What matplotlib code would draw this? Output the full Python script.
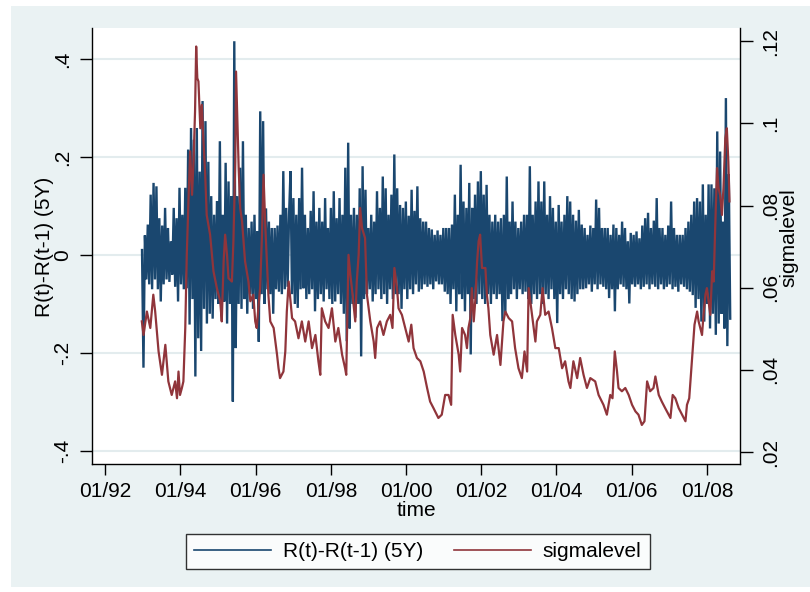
import numpy as np
import matplotlib
matplotlib.use("Agg")
import matplotlib.pyplot as plt
from matplotlib.patches import Rectangle
from matplotlib.lines import Line2D

plt.rcParams['font.family'] = ['Liberation Sans', 'DejaVu Sans']

# ---------------------------------------------------------------------------
# Data
# ---------------------------------------------------------------------------
# Daily change of the 5Y rate, sampled at regular intervals (decimal years)
dr_start, dr_end = 1992.98, 2008.62
dr_5y = [
    0.01, -0.23, 0.04, -0.05, 0.062, -0.06, 0.123, -0.07, 0.147, -0.05,
    0.14, -0.07, 0.075, -0.095, 0.06, -0.06, 0.096, -0.05, 0.055, -0.055,
    0.028, -0.04, 0.096, -0.065, 0.075, -0.095, 0.137, -0.06, 0.082, -0.07,
    0.137, -0.068, 0.215, -0.142, 0.259, -0.09, 0.235, -0.248, 0.259, -0.17,
    0.17, -0.196, 0.314, -0.11, 0.273, -0.14, 0.19, -0.12, 0.12, -0.13,
    0.082, -0.09, 0.11, -0.1, 0.232, -0.12, 0.082, -0.095, 0.188, -0.14,
    0.15, -0.1, 0.12, -0.299, 0.436, -0.19, 0.12, -0.1, 0.178, -0.11,
    0.232, -0.09, 0.082, -0.12, 0.055, -0.08, 0.068, -0.11, 0.082, -0.09,
    0.048, -0.177, 0.293, -0.08, 0.273, -0.1, 0.095, -0.07, 0.068, -0.08,
    0.055, -0.12, 0.055, -0.07, 0.06, -0.075, 0.082, -0.08, 0.171, -0.07,
    0.096, -0.065, 0.082,
    0.171, -0.08, 0.116, -0.1, 0.082, -0.108, 0.116, -0.07, 0.178, -0.068,
    0.082, -0.09, 0.055, -0.08, 0.09, -0.07, 0.13, -0.115, 0.068, -0.09,
    0.096, -0.08, 0.068, -0.095, 0.116, -0.07, 0.055, -0.09, 0.096, -0.1,
    0.13, -0.095, 0.075, -0.08, 0.116, -0.1, 0.082, -0.12, 0.178, -0.176,
    0.229, -0.15, 0.082, -0.1, 0.096, -0.128, 0.082, -0.1, 0.136, -0.207,
    0.181, -0.09, 0.133, -0.08, 0.055, -0.07, 0.082, -0.095, 0.068, -0.08,
    0.13, -0.07, 0.096, -0.09, 0.16, -0.08, 0.136, -0.1, 0.082, -0.07,
    0.123, -0.09, 0.205, -0.08, 0.136, -0.08, 0.102, -0.11, 0.096, -0.07,
    0.109, -0.09, 0.08, -0.07, 0.133, -0.08, 0.09, -0.06, 0.14, -0.075,
    0.075, -0.07, 0.068, -0.06, 0.068, -0.065, 0.055, -0.06, 0.052, -0.07,
    0.041, -0.054, 0.05, -0.06,
    0.041, -0.06, 0.055, -0.075, 0.055, -0.08, 0.055, -0.1, 0.062, -0.07,
    0.123, -0.115, 0.082, -0.08, 0.184, -0.09, 0.109, -0.115, 0.096, -0.08,
    0.147, -0.203, 0.096, -0.09, 0.123, -0.1, 0.15, -0.08, 0.171, -0.09,
    0.123, -0.1, 0.143, -0.08, 0.082, -0.1, 0.068, -0.08, 0.082, -0.09,
    0.068, -0.08, 0.075, -0.135, 0.082, -0.122, 0.16, -0.09, 0.068, -0.08,
    0.109, -0.07, 0.068, -0.09, 0.055, -0.07, 0.068, -0.08, 0.082, -0.075,
    0.082, -0.09, 0.181, -0.1, 0.082, -0.08, 0.109, -0.09, 0.15, -0.08,
    0.109, -0.1, 0.15, -0.08, 0.082, -0.09, 0.12, -0.07, 0.096, -0.09,
    0.068, -0.139, 0.102, -0.08, 0.068, -0.09, 0.082, -0.07, 0.12, -0.08,
    0.109, -0.09, 0.082, -0.095, 0.07, -0.08, 0.092, -0.07, 0.062, -0.07,
    0.055, -0.068, 0.041, -0.06,
    0.06, -0.075, 0.055, -0.06, 0.113, -0.07, 0.096, -0.06, 0.055, -0.065,
    0.055, -0.07, 0.055, -0.088, 0.041, -0.07, 0.062, -0.115, 0.055, -0.07,
    0.041, -0.06, 0.068, -0.065, 0.055, -0.07, 0.028, -0.099, 0.045, -0.06,
    0.041, -0.065, 0.048, -0.06, 0.034, -0.07, 0.06, -0.065, 0.075, -0.06,
    0.086, -0.07, 0.055, -0.06, 0.07, -0.065, 0.116, -0.07, 0.055, -0.06,
    0.055, -0.07, 0.041, -0.065, 0.06, -0.06, 0.109, -0.07, 0.055, -0.065,
    0.041, -0.075, 0.041, -0.06, 0.041, -0.065, 0.055, -0.07, 0.068, -0.075,
    0.082, -0.082, 0.109, -0.108, 0.116, -0.09, 0.109, -0.136, 0.144, -0.136,
    0.082, -0.1, 0.144, -0.15, 0.144, -0.12, 0.136, -0.163, 0.252, -0.14,
    0.211, -0.12, 0.068, -0.15, 0.32, -0.186, 0.165, -0.13,
]

# Volatility level (right axis), decimal-year dates
sig_t = [
    1992.975, 1993.02, 1993.11, 1993.20, 1993.28, 1993.33, 1993.42, 1993.51,
    1993.60, 1993.68, 1993.77, 1993.86, 1993.91, 1993.95, 1993.99, 1994.04,
    1994.08, 1994.13, 1994.17, 1994.22, 1994.26, 1994.31, 1994.35, 1994.39,
    1994.42, 1994.45, 1994.48, 1994.53, 1994.57, 1994.61, 1994.66, 1994.70,
    1994.79, 1994.88, 1994.97, 1995.06, 1995.10, 1995.15, 1995.19, 1995.24,
    1995.28, 1995.37, 1995.41, 1995.46, 1995.48, 1995.51, 1995.55, 1995.59,
    1995.64, 1995.68, 1995.72, 1995.81, 1995.86, 1995.94, 1995.99, 1996.03,
    1996.08, 1996.12, 1996.17, 1996.21, 1996.26, 1996.34, 1996.39, 1996.48,
    1996.57, 1996.61, 1996.65, 1996.74, 1996.79, 1996.83, 1996.88,
    1996.97, 1997.05, 1997.14, 1997.23, 1997.32, 1997.41, 1997.50, 1997.59,
    1997.67, 1997.72, 1997.76, 1997.85, 1997.94, 1998.03, 1998.12, 1998.20,
    1998.30, 1998.38, 1998.41, 1998.47, 1998.52, 1998.56, 1998.65, 1998.69,
    1998.74, 1998.78, 1998.83, 1998.91, 1998.96, 1999.05, 1999.14, 1999.18,
    1999.23, 1999.31, 1999.40, 1999.49, 1999.58, 1999.64, 1999.69, 1999.76,
    1999.80, 1999.89, 1999.98, 2000.07, 2000.14, 2000.20, 2000.29, 2000.38,
    2000.47, 2000.56, 2000.64, 2000.73, 2000.86,
    2000.95, 2001.04, 2001.13, 2001.20, 2001.24, 2001.31, 2001.40, 2001.44,
    2001.49, 2001.57, 2001.62, 2001.66, 2001.71, 2001.75, 2001.80, 2001.84,
    2001.89, 2001.93, 2001.97, 2002.02, 2002.11, 2002.15, 2002.19, 2002.24,
    2002.33, 2002.42, 2002.51, 2002.59, 2002.64, 2002.73, 2002.82, 2002.90,
    2002.99, 2003.08, 2003.15, 2003.22, 2003.26, 2003.35, 2003.44, 2003.48,
    2003.57, 2003.63, 2003.70, 2003.79, 2003.88, 2003.97, 2004.06, 2004.15,
    2004.23, 2004.32, 2004.37, 2004.45, 2004.55, 2004.63, 2004.72, 2004.81,
    2004.90,
    2005.03, 2005.12, 2005.25, 2005.34, 2005.43, 2005.49, 2005.55, 2005.61,
    2005.65, 2005.74, 2005.83, 2005.92, 2006.01, 2006.10, 2006.18, 2006.27,
    2006.34, 2006.41, 2006.49, 2006.58, 2006.63, 2006.72, 2006.80, 2006.89,
    2007.03, 2007.09, 2007.16, 2007.25, 2007.34, 2007.43, 2007.47, 2007.53,
    2007.60, 2007.67, 2007.74, 2007.78, 2007.87, 2007.91, 2007.96, 2008.00,
    2008.09, 2008.14, 2008.18, 2008.22, 2008.27, 2008.31, 2008.35, 2008.40,
    2008.44, 2008.49, 2008.53, 2008.57, 2008.60,
]
sig_v = [
    0.0518, 0.0485, 0.0542, 0.0502, 0.0583, 0.0542, 0.0445, 0.0388,
    0.0461, 0.0372, 0.0339, 0.0372, 0.0331, 0.0396, 0.0339, 0.0356,
    0.0372, 0.0502, 0.0680, 0.0826, 0.0932, 0.0826, 0.0907, 0.1029,
    0.1187, 0.1110, 0.1102, 0.0988, 0.1045, 0.0964, 0.0875, 0.0777,
    0.0729, 0.0640, 0.0599, 0.0567, 0.0518, 0.0664, 0.0729, 0.0680,
    0.0623, 0.0615, 0.0713, 0.0907, 0.1126, 0.1029, 0.0891, 0.0794,
    0.0761, 0.0713, 0.0664, 0.0615, 0.0567, 0.0583, 0.0518, 0.0502,
    0.0558, 0.0599, 0.0729, 0.0875, 0.0745, 0.0583, 0.0518, 0.0502,
    0.0437, 0.0404, 0.0380, 0.0396, 0.0445, 0.0542, 0.0615,
    0.0526, 0.0518, 0.0477, 0.0518, 0.0469, 0.0518, 0.0453, 0.0485,
    0.0421, 0.0388, 0.0550, 0.0518, 0.0502, 0.0550, 0.0469, 0.0502,
    0.0437, 0.0404, 0.0388, 0.0680, 0.0631, 0.0599, 0.0518, 0.0615,
    0.0680, 0.0794, 0.0745, 0.0721, 0.0583, 0.0518, 0.0469, 0.0429,
    0.0502, 0.0518, 0.0485, 0.0518, 0.0534, 0.0502, 0.0648, 0.0599,
    0.0550, 0.0534, 0.0502, 0.0469, 0.0510, 0.0453, 0.0429, 0.0421,
    0.0396, 0.0356, 0.0323, 0.0307, 0.0283,
    0.0291, 0.0339, 0.0339, 0.0315, 0.0534, 0.0485, 0.0437, 0.0396,
    0.0502, 0.0485, 0.0453, 0.0502, 0.0526, 0.0599, 0.0518, 0.0567,
    0.0664, 0.0713, 0.0729, 0.0648, 0.0648, 0.0583, 0.0550, 0.0485,
    0.0437, 0.0485, 0.0412, 0.0518, 0.0542, 0.0526, 0.0518, 0.0453,
    0.0404, 0.0380, 0.0445, 0.0396, 0.0599, 0.0534, 0.0469, 0.0518,
    0.0534, 0.0599, 0.0534, 0.0542, 0.0502, 0.0453, 0.0453, 0.0404,
    0.0421, 0.0372, 0.0356, 0.0421, 0.0380, 0.0429, 0.0388, 0.0356,
    0.0380,
    0.0372, 0.0339, 0.0315, 0.0291, 0.0339, 0.0331, 0.0445, 0.0396,
    0.0356, 0.0348, 0.0356, 0.0339, 0.0315, 0.0299, 0.0291, 0.0266,
    0.0275, 0.0372, 0.0348, 0.0356, 0.0384, 0.0339, 0.0323, 0.0307,
    0.0283, 0.0339, 0.0331, 0.0307, 0.0291, 0.0275, 0.0315, 0.0331,
    0.0421, 0.0510, 0.0542, 0.0518, 0.0485, 0.0534, 0.0583, 0.0599,
    0.0534, 0.0640, 0.0615, 0.0745, 0.0891, 0.0842, 0.0826, 0.0777,
    0.0842, 0.0964, 0.0988, 0.0907, 0.0810,
]

x_ticks = [1992, 1994, 1996, 1998, 2000, 2002, 2004, 2006, 2008]
x_tick_labels = ["01/92", "01/94", "01/96", "01/98", "01/00",
                 "01/02", "01/04", "01/06", "01/08"]
left_ticks = [-0.4, -0.2, 0.0, 0.2, 0.4]
left_tick_labels = ["-.4", "-.2", "0", ".2", ".4"]
right_ticks = [0.02, 0.04, 0.06, 0.08, 0.10, 0.12]
right_tick_labels = [".02", ".04", ".06", ".08", ".1", ".12"]

# ---------------------------------------------------------------------------
# Styling
# ---------------------------------------------------------------------------
BG = '#eaf2f3'
GRID = '#e3ecee'
NAVY = '#1a476f'
MAROON = '#90353b'
FS = 15

W, H = 810, 592


def fx(x):
    return x / W


def fy(y):
    return 1 - y / H


fig = plt.figure(figsize=(W / 100, H / 100), dpi=100)
fig.patch.set_facecolor('white')
fig.patches.append(Rectangle((fx(11), fy(587)), fx(810) - fx(11), fy(6) - fy(587),
                             transform=fig.transFigure, facecolor=BG,
                             edgecolor='none', zorder=-10))

ax = fig.add_axes([fx(92), fy(464), fx(740) - fx(92), fy(28) - fy(464)])
ax.set_facecolor('white')

t_dr = np.linspace(dr_start, dr_end, len(dr_5y))
ax.plot(t_dr, dr_5y, color=NAVY, lw=1.7, zorder=3, solid_joinstyle='miter')

ax.set_xlim(1991.65, 2008.88)
ax.set_ylim(-0.4265, 0.463)
ax.set_xticks(x_ticks)
ax.set_xticklabels(x_tick_labels)
ax.set_yticks(left_ticks)
ax.set_yticklabels(left_tick_labels, rotation=90, va='center')
ax.yaxis.grid(True, color=GRID, lw=1.5, zorder=0)
ax.set_axisbelow(True)
ax.tick_params(axis='x', direction='out', length=8, width=1, labelsize=FS, pad=5)
ax.tick_params(axis='y', direction='out', length=9, width=1, labelsize=FS, pad=5)
for side in ['top', 'right']:
    ax.spines[side].set_visible(False)
for side in ['left', 'bottom']:
    ax.spines[side].set_linewidth(1.0)
    ax.spines[side].set_color('black')

ax2 = ax.twinx()
ax2.plot(sig_t, sig_v, color=MAROON, lw=1.6, zorder=4)
ax2.set_ylim(0.0171, 0.1232)
ax2.set_yticks(right_ticks)
ax2.set_yticklabels(right_tick_labels, rotation=90, va='center')
ax2.tick_params(axis='y', direction='out', length=9, width=1, labelsize=FS, pad=6)
for side in ['top', 'left', 'bottom']:
    ax2.spines[side].set_visible(False)
ax2.spines['right'].set_linewidth(1.0)
ax2.spines['right'].set_color('black')

# Axis titles
fig.text(fx(45), fy(247), "R(t)-R(t-1) (5Y)", rotation=90, ha='center',
         va='center', fontsize=FS)
fig.text(fx(789), fy(238), "sigmalevel", rotation=90, ha='center',
         va='center', fontsize=FS)
fig.text(fx(416), fy(510), "time", ha='center', va='center', fontsize=FS)

# Legend
handles = [Line2D([], [], color=NAVY, lw=1.2),
           Line2D([], [], color=MAROON, lw=1.2)]
leg = fig.legend(handles, ["R(t)-R(t-1) (5Y)", "sigmalevel"], ncol=2,
                 loc='center', bbox_to_anchor=(fx(418), fy(551.5)),
                 fontsize=FS, frameon=True, fancybox=False,
                 handlelength=3.7, handletextpad=0.55, columnspacing=1.5,
                 borderpad=0.4)
leg.get_frame().set_edgecolor('black')
leg.get_frame().set_linewidth(1.0)
leg.get_frame().set_facecolor('white')

fig.savefig('out.png', dpi=100, facecolor=fig.get_facecolor())
